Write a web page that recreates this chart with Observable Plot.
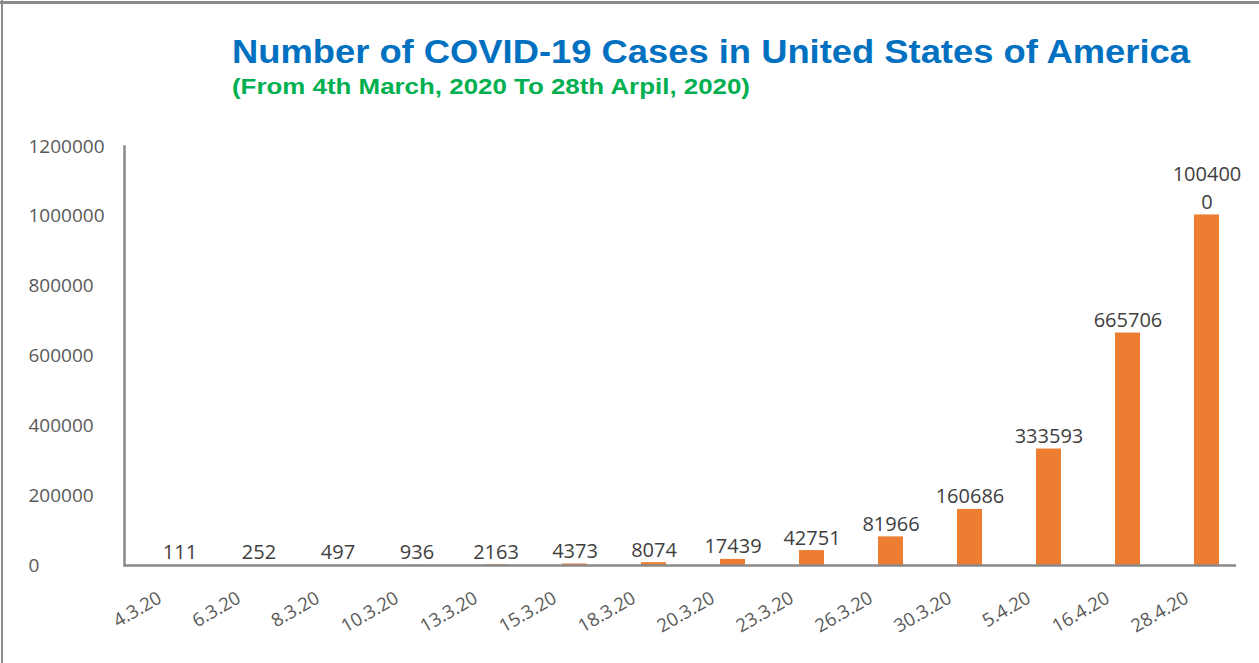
<!DOCTYPE html>
<html><head><meta charset="utf-8">
<script src="https://cdn.jsdelivr.net/npm/d3@7"></script>
<script src="https://cdn.jsdelivr.net/npm/@observablehq/plot@0.6"></script>
<style>
body{margin:0;background:#fff;}
#wrap{position:relative;width:1259px;height:663px;overflow:hidden;background:#fff;}
.bt{position:absolute;left:0;top:1px;width:1259px;height:3px;background:#8a8a8a;}
.bl{position:absolute;left:1px;top:0;width:2px;height:663px;background:#8a8a8a;}
.ttl{position:absolute;left:232px;font-family:"Liberation Sans",Arial,sans-serif;font-weight:bold;line-height:1;white-space:nowrap;transform-origin:0 0;}
#title{top:35px;font-size:33.5px;color:#0070C0;}
#sub{top:77px;font-size:21.5px;color:#00B050;}
#chart{position:absolute;left:0;top:120px;}
</style>
</head><body>
<div id="wrap">
  <div class="bt"></div><div class="bl"></div>
  <div id="title" class="ttl">Number of COVID-19 Cases in United States of America</div>
  <div id="sub" class="ttl">(From 4th March, 2020 To 28th Arpil, 2020)</div>
  <div id="chart"></div>
</div>
<script>
const dates = ["4.3.20","6.3.20","8.3.20","10.3.20","13.3.20","15.3.20","18.3.20","20.3.20","23.3.20","26.3.20","30.3.20","5.4.20","16.4.20","28.4.20"];
const cases = [111,252,497,936,2163,4373,8074,17439,42751,81966,160686,333593,665706,1004000];
const yTicks = [0,200000,400000,600000,800000,1000000,1200000];

const data = dates.map((d,i)=>({date:d, cases:cases[i]}));
const wrapLabel = v => { const s = String(v); return s.length > 6 ? s.slice(0,6) + "\n" + s.slice(6) : s; };

// fit title widths to reference
function fit(id, w){ const el=document.getElementById(id); const r=el.getBoundingClientRect().width; el.style.transform=`scaleX(${w/r})`; }
fit("title", 958); fit("sub", 518);

const chart = Plot.plot({
  width:1259, height:543,
  marginLeft:124, marginRight:23, marginTop:26, marginBottom:98,
  style:{background:"transparent", fontFamily:"'Open Sans', sans-serif"},
  x:{domain:dates, range:[139.65,1245.85], paddingInner:0.685, paddingOuter:0.3, align:0.5},
  y:{domain:[0,1200000]},
  marks:[
    Plot.barY(data,{x:"date", y:"cases", fill:"#ED7D31"}),
    Plot.ruleY([0],{stroke:"#898989", strokeWidth:2.5}),
    Plot.frame({anchor:"left", stroke:"#898989", strokeWidth:2.5}),
    Plot.axisY({ticks:yTicks, tickSize:0, tickPadding:0, textAnchor:"start", dx:-96, fontSize:19, fill:"#595959", label:null, tickFormat:d=>String(d)}),
    Plot.axisX({tickSize:0, tickPadding:0, tickRotate:-30, textAnchor:"end", lineAnchor:"middle", dx:-20, dy:31, fontSize:18.5, fill:"#595959", label:null}),
    Plot.text(data,{x:"date", y:"cases", text:d=>wrapLabel(d.cases), lineAnchor:"bottom", dy:-6, fontSize:20, fill:"#404040", lineHeight:1.4})
  ]
});
document.getElementById("chart").appendChild(chart);
</script>
</body></html>
